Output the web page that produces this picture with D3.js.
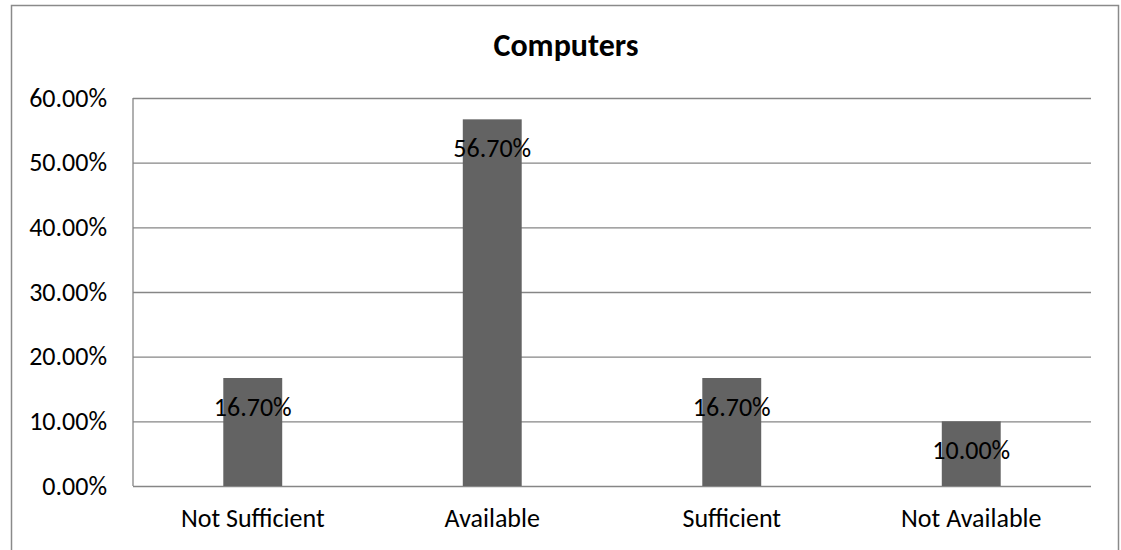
<!DOCTYPE html>
<html>
<head>
<meta charset="utf-8">
<script src="https://cdn.jsdelivr.net/npm/d3@7"></script>
<style>
  html, body { margin: 0; padding: 0; background: #fff; }
  svg text { font-family: Carlito, Calibri, Lato, sans-serif; fill: #000; }
</style>
</head>
<body>
<svg id="chart" width="1121" height="550"></svg>
<script>
// Survey result: availability of computers
const title = "Computers";
const categories = ["Not Sufficient", "Available", "Sufficient", "Not Available"];
const values = [16.7, 56.7, 16.7, 10.0];
const yTicks = [0, 10, 20, 30, 40, 50, 60];

const svg = d3.select("#chart");
const plot = { left: 133, right: 1091, top: 98, bottom: 486 };
const gridColor = "#868686";
const fontFamily = "Carlito, Calibri, Lato, sans-serif";
const labelSize = 26;

// chart frame
svg.append("rect")
  .attr("x", 11.5).attr("y", 5.5)
  .attr("width", 1107).attr("height", 560)
  .attr("fill", "none").attr("stroke", "#8a8a8a").attr("stroke-width", 1.5);

const x = d3.scaleBand()
  .domain(categories)
  .range([plot.left, plot.right])
  .paddingInner(0.754)
  .paddingOuter(0.377);

const y = d3.scaleLinear()
  .domain([0, 60])
  .range([plot.bottom, plot.top]);

// horizontal gridlines with percentage labels
const yAxis = d3.axisLeft(y)
  .tickValues(yTicks)
  .tickSize(-(plot.right - plot.left))
  .tickPadding(26)
  .tickFormat(d => d.toFixed(2) + "%");

const gy = svg.append("g")
  .attr("transform", `translate(${plot.left},0)`)
  .call(yAxis);
gy.select(".domain").remove();
gy.selectAll(".tick line").attr("stroke", gridColor).attr("stroke-width", 1.3);
gy.selectAll(".tick text").attr("font-size", labelSize).attr("fill", "#000")
  .attr("font-family", fontFamily);

// vertical value axis line
svg.append("line")
  .attr("x1", plot.left).attr("x2", plot.left)
  .attr("y1", plot.top).attr("y2", plot.bottom)
  .attr("stroke", gridColor).attr("stroke-width", 1.3);

// category labels
const xAxis = d3.axisBottom(x).tickSize(0).tickPadding(23);
const gx = svg.append("g")
  .attr("transform", `translate(0,${plot.bottom})`)
  .call(xAxis);
gx.select(".domain").remove();
gx.selectAll(".tick text").attr("font-size", labelSize).attr("fill", "#000")
  .attr("font-family", fontFamily);

const data = categories.map((c, i) => ({ category: c, value: values[i] }));

// bars
svg.append("g").selectAll("rect")
  .data(data)
  .join("rect")
  .attr("x", d => x(d.category))
  .attr("y", d => y(d.value))
  .attr("width", x.bandwidth())
  .attr("height", d => y(0) - y(d.value))
  .attr("fill", "#636363");

// value labels, inside the top of each bar
svg.append("g").selectAll("text")
  .data(data)
  .join("text")
  .attr("x", d => x(d.category) + x.bandwidth() / 2)
  .attr("y", d => y(d.value) + 29)
  .attr("dy", "0.35em")
  .attr("text-anchor", "middle")
  .attr("font-size", labelSize)
  .text(d => d.value.toFixed(2) + "%");

// title
svg.append("text")
  .attr("x", 566)
  .attr("y", 56)
  .attr("text-anchor", "middle")
  .attr("font-size", 32)
  .attr("font-weight", "bold")
  .text(title);
</script>
</body>
</html>
